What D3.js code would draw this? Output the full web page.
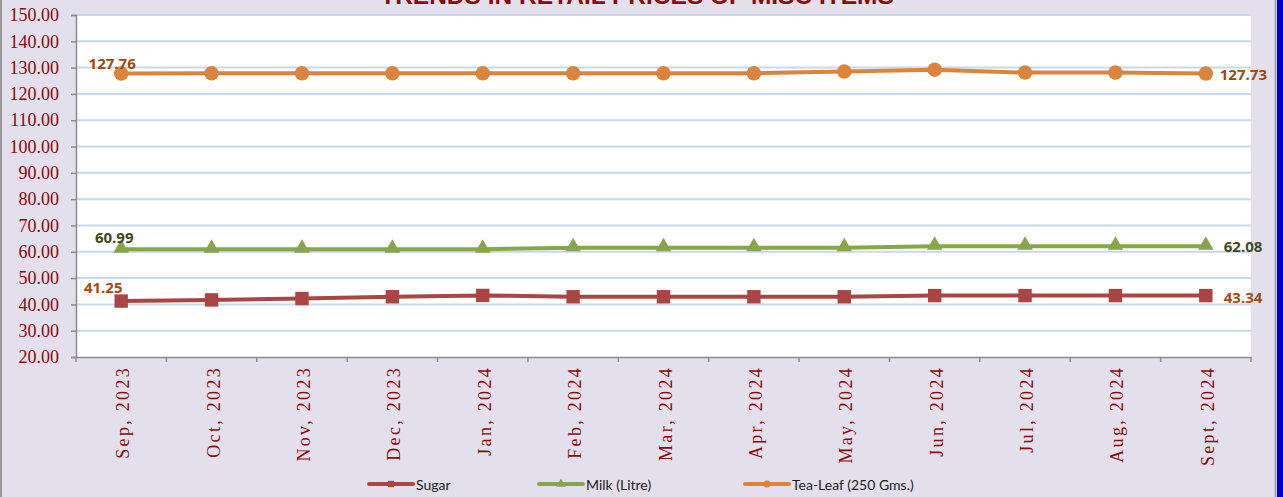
<!DOCTYPE html>
<html><head><meta charset="utf-8">
<script src="https://cdn.jsdelivr.net/npm/d3@7/dist/d3.min.js"></script>
<style>
html,body{margin:0;padding:0;background:#E4DFEC;}
svg{display:block;}
</style></head>
<body><svg id="c" width="1283" height="497"></svg>
<script>
const title = "TRENDS IN RETAIL PRICES OF MISC ITEMS";
const categories = ["Sep, 2023","Oct, 2023","Nov, 2023","Dec, 2023","Jan, 2024","Feb, 2024","Mar, 2024","Apr, 2024","May, 2024","Jun, 2024","Jul, 2024","Aug, 2024","Sept, 2024"];
const sugar = [41.25,41.7,42.2,42.9,43.4,42.9,42.9,42.9,42.9,43.34,43.34,43.34,43.34];
const milk  = [60.99,60.99,60.99,60.99,60.99,61.5,61.5,61.5,61.5,62.08,62.08,62.08,62.08];
const tea   = [127.76,127.85,127.85,127.85,127.85,127.85,127.85,127.85,128.5,129.2,128.1,128.1,127.73];
const seriesNames = ["Sugar","Milk (Litre)","Tea-Leaf (250 Gms.)"];
const yTicks = [20,30,40,50,60,70,80,90,100,110,120,130,140,150];

const series = [
  {name: seriesNames[0], values: sugar, color: "#A94644", label: "#A5490F", marker: "square"},
  {name: seriesNames[1], values: milk,  color: "#88A54C", label: "#3E4A1C", marker: "triangle"},
  {name: seriesNames[2], values: tea,   color: "#DC843C", label: "#9A4A10", marker: "circle"}
];

const svg = d3.select("#c");
const L = 76, R = 1251, T = 15, B = 357;
const x = d3.scaleBand().domain(categories).range([L, R]).padding(0);
const y = d3.scaleLinear().domain([20,150]).range([B, T]);
const cx = d => x(d) + x.bandwidth()/2;

// background & borders
svg.append("rect").attr("x",0).attr("y",0).attr("width",1283).attr("height",497).attr("fill","#E4DFEC");
svg.append("rect").attr("x",L).attr("y",T).attr("width",R-L).attr("height",B-T).attr("fill","#fff");
svg.append("line").attr("x1",1).attr("x2",1).attr("y1",0).attr("y2",497).attr("stroke","#999").attr("stroke-width",2);
svg.append("line").attr("x1",1275.5).attr("x2",1275.5).attr("y1",0).attr("y2",497).attr("stroke","#999").attr("stroke-width",1.5);
svg.append("rect").attr("x",1277).attr("y",0).attr("width",6).attr("height",497).attr("fill","#0000CC");

// gridlines
svg.append("g").selectAll("line").data(yTicks.filter(t=>t>20)).join("line")
  .attr("x1",L).attr("x2",R).attr("y1",d=>y(d)).attr("y2",d=>y(d))
  .attr("stroke","#C6D9F0").attr("stroke-width",2);

// y axis
const yAxis = d3.axisLeft(y).tickValues(yTicks).tickFormat(d3.format(".2f")).tickSize(5).tickPadding(8);
const gy = svg.append("g").attr("transform",`translate(${L},0)`).call(yAxis);
gy.select(".domain").attr("stroke","#8C8C8C").attr("stroke-width",1.5);
gy.selectAll(".tick line").attr("stroke","#8C8C8C").attr("stroke-width",1.5);
gy.selectAll(".tick text").attr("fill","#8B0A0A").attr("font-family","'Liberation Serif', serif").attr("font-size",18).attr("dx",-4);

// x axis
const gx = svg.append("g").attr("transform",`translate(0,${B})`).call(d3.axisBottom(x).tickSize(0).tickFormat(""));
gx.select(".domain").attr("stroke","#8C8C8C").attr("stroke-width",1.5);
const bounds = categories.map(c=>x(c)).concat([R]);
gx.selectAll(".bnd").data(bounds).join("line").attr("class","bnd")
  .attr("x1",d=>d).attr("x2",d=>d).attr("y1",0).attr("y2",5).attr("stroke","#8C8C8C").attr("stroke-width",1.5);
svg.append("g").selectAll("text").data(categories).join("text")
  .attr("transform",d=>`translate(${cx(d)+2},366) rotate(-90)`)
  .attr("text-anchor","end").attr("dominant-baseline","central")
  .attr("fill","#8B0A0A").attr("font-family","'Liberation Serif', serif").attr("font-size",18)
  .attr("letter-spacing",2.3)
  .text(d=>d);

// title
svg.append("text").attr("x",637).attr("y",4).attr("text-anchor","middle")
  .attr("font-family","'Liberation Sans', Arial, sans-serif").attr("font-weight","bold").attr("font-size",24.5)
  .attr("fill","#8B0A0A").text(title);

// lines & markers
const line = d3.line().x((d,i)=>cx(categories[i])).y(d=>y(d));
series.forEach(s=>{
  const g = svg.append("g");
  g.append("path").datum(s.values).attr("d",line).attr("fill","none").attr("stroke",s.color).attr("stroke-width",4).attr("stroke-linejoin","round");
  const sym = s.marker==="square" ? d3.symbolSquare : s.marker==="triangle" ? d3.symbolTriangle : d3.symbolCircle;
  const size = s.marker==="square" ? 180 : s.marker==="triangle" ? 105 : 165;
  g.selectAll("path.m").data(s.values).join("path").attr("class","m")
    .attr("transform",(d,i)=>`translate(${cx(categories[i])},${y(d) + (s.marker==="triangle"?-1:0)})`)
    .attr("d",d3.symbol().type(sym).size(size)).attr("fill",s.color);
});

// data labels
const lab = (s, i, dx, dy, anchor) => {
  svg.append("text").attr("x",cx(categories[i])+dx).attr("y",y(s.values[i])+dy)
    .attr("text-anchor",anchor).attr("dominant-baseline","central")
    .attr("font-family","'Open Sans', sans-serif").attr("font-weight","bold").attr("font-size",15)
    .attr("fill",s.label).text(s.values[i].toFixed(2));
};
const last = categories.length-1;
lab(series[2],0,-9,-11,"middle");
lab(series[2],last,14,0,"start");
lab(series[1],0,-7,-12,"middle");
lab(series[1],last,18,0,"start");
lab(series[0],0,-18,-14,"middle");
lab(series[0],last,18,1,"start");

// legend
const legX = [369, 539, 745];
const lg = svg.append("g");
series.forEach((s,i)=>{
  const g = lg.append("g").attr("transform",`translate(${legX[i]},484)`);
  g.append("line").attr("x1",0).attr("x2",44).attr("y1",0).attr("y2",0).attr("stroke",s.color).attr("stroke-width",4).attr("stroke-linecap","round");
  const sym = s.marker==="square" ? d3.symbolSquare : s.marker==="triangle" ? d3.symbolTriangle : d3.symbolCircle;
  g.append("path").attr("transform","translate(22,0)").attr("d",d3.symbol().type(sym).size(40)).attr("fill",s.color);
  g.append("text").attr("x",47).attr("y",0).attr("dominant-baseline","central")
    .attr("font-family","Lato, sans-serif").attr("font-size",14).attr("fill","#222").text(s.name);
});
</script></body></html>
